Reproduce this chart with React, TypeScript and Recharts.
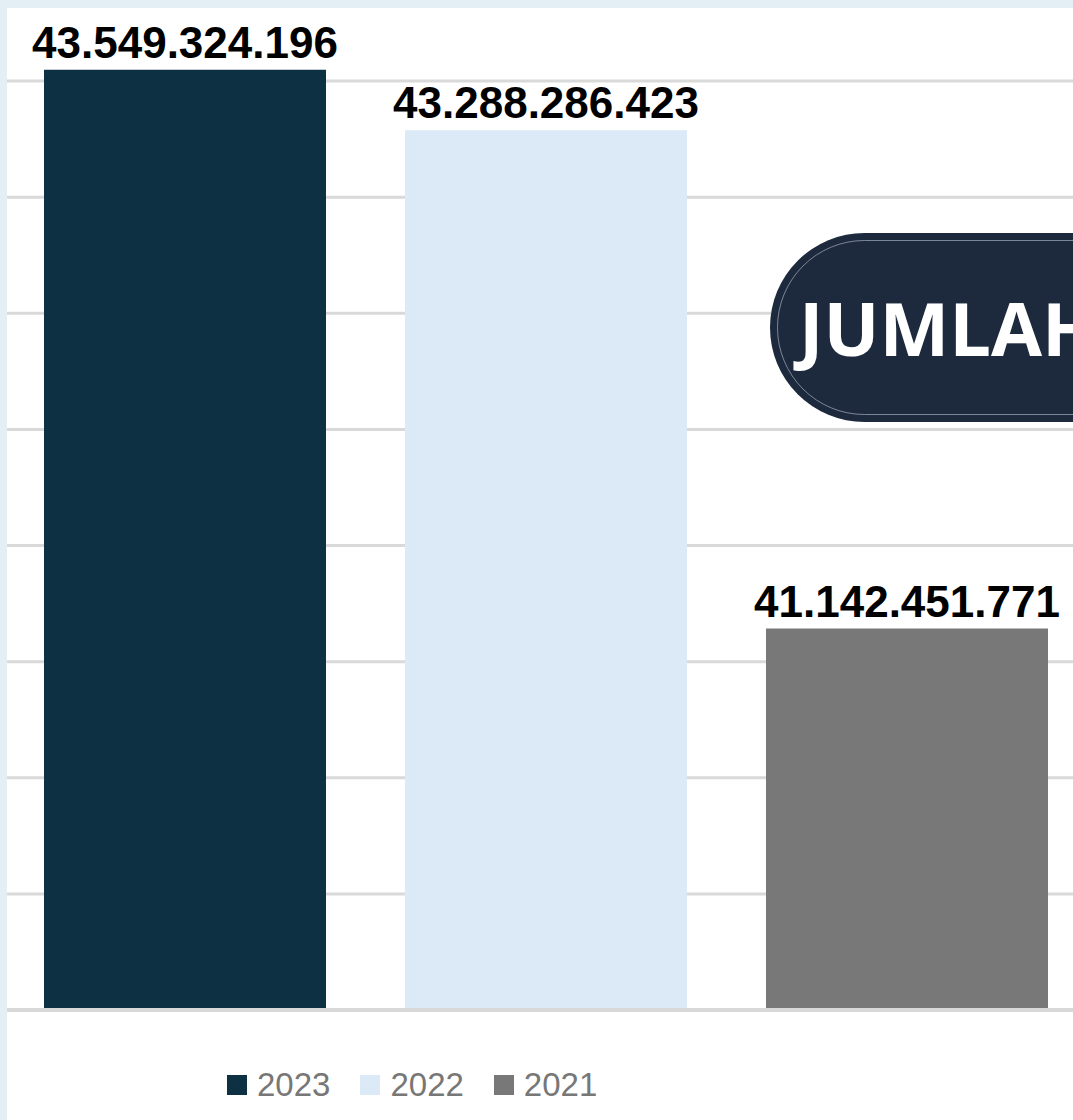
import React from 'react'
import {
  BarChart, Bar, XAxis, YAxis, CartesianGrid, Legend, LabelList, ReferenceLine,
} from 'recharts'

// one category, three yearly series
const years = ['2023', '2022', '2021']
const values = [43549324196, 43288286423, 41142451771]
const colors = ['#0d3042', '#dce9f6', '#787878']
const yTicks = [39.5e9, 40e9, 40.5e9, 41e9, 41.5e9, 42e9, 42.5e9, 43e9, 43.5e9, 44e9]
const badgeText = 'JUMLAH'

const row: Record<string, any> = { name: 'Jumlah' }
years.forEach((y, i) => { row['y' + y] = values[i] })
const data = [row]

const fmt = (v: any) => String(Math.round(Number(v))).replace(/\B(?=(\d{3})+(?!\d))/g, '.')

const LegendBox = (props: any) => {
  // keep series order (recharts sorts the payload)
  const items = [...(props.payload || [])].sort(
    (a: any, b: any) => years.indexOf(String(a.value)) - years.indexOf(String(b.value)),
  )
  return (
    <div style={{ height: 110, display: 'flex', alignItems: 'center', paddingLeft: 220, paddingTop: 40, boxSizing: 'border-box' }}>
      {items.map((it: any) => (
        <div key={it.value} style={{ display: 'flex', alignItems: 'center', marginRight: 30 }}>
          <div style={{ width: 20, height: 20, background: it.color, marginRight: 10 }} />
          <span style={{ fontFamily: 'Liberation Sans, Arial, sans-serif', fontSize: 33, color: '#777777', lineHeight: '34px' }}>{it.value}</span>
        </div>
      ))}
    </div>
  )
}

export default function App() {
  return (
    <div style={{ position: 'absolute', left: 0, top: 0, width: 1073, height: 1120, overflow: 'hidden', background: '#e3eef5' }}>
      <div style={{ position: 'absolute', left: 7, top: 8, right: 0, bottom: 0, background: '#ffffff' }} />
      <div style={{ position: 'absolute', left: 7, top: -35 }}>
        <BarChart
          width={1078}
          height={1155}
          data={data}
          margin={{ top: 0, right: 0, bottom: 0, left: 0 }}
          barCategoryGap={0}
          barGap={79}
          barSize={282}
        >
          <CartesianGrid vertical={false} stroke="#d9d9d9" strokeWidth={3} />
          <XAxis dataKey="name" hide />
          <YAxis hide domain={[39.5e9, 44e9]} ticks={yTicks} allowDataOverflow />
          <Legend verticalAlign="bottom" content={<LegendBox />} />
          {years.map((y, i) => (
            <Bar key={y} dataKey={'y' + y} name={y} fill={colors[i]} isAnimationActive={false}>
              <LabelList
                dataKey={'y' + y}
                position="top"
                offset={12}
                formatter={fmt}
                fill="#000000"
                fontSize={44}
                fontWeight={700}
                fontFamily="Liberation Sans, Arial, sans-serif"
              />
            </Bar>
          ))}
          <ReferenceLine y={39.5e9} stroke="#d9d9d9" strokeWidth={4} />
        </BarChart>
      </div>
      <div style={{
        position: 'absolute', left: 770, top: 233, width: 520, height: 189, borderRadius: 95,
        background: '#1d2a3d',
      }}>
        <div style={{
          position: 'absolute', left: 7, top: 7, right: 7, bottom: 7, borderRadius: 88,
          border: '1px solid rgba(200,210,225,0.55)',
        }} />
        <div style={{
          position: 'absolute', left: 29, top: 0, height: 189, display: 'flex', alignItems: 'center',
          fontFamily: 'Open Sans, sans-serif', fontWeight: 700, fontSize: 74, color: '#ffffff', whiteSpace: 'nowrap',
        }}>{badgeText}</div>
      </div>
    </div>
  )
}
